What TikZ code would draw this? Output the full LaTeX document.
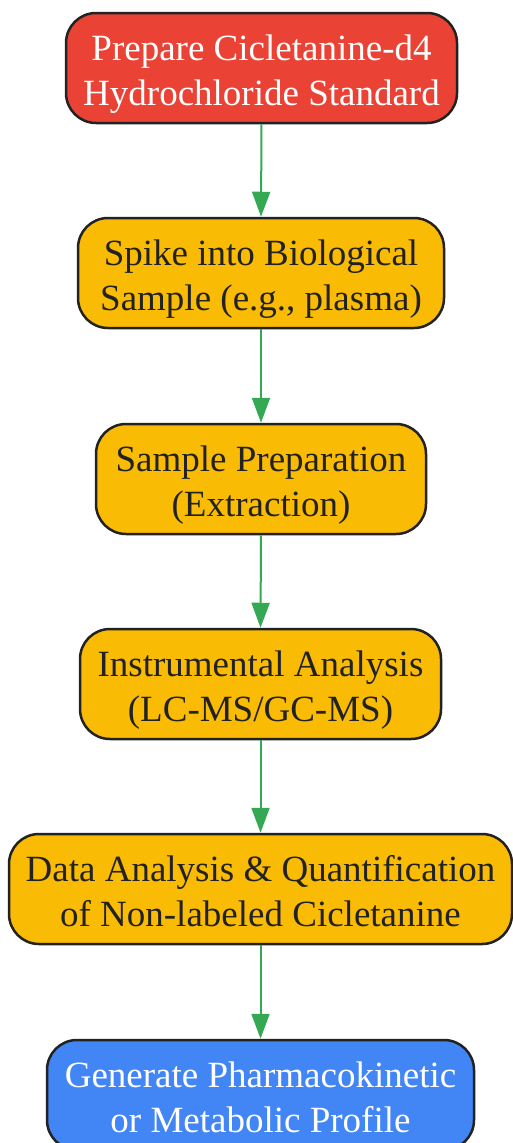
\documentclass[tikz,border=0pt]{standalone}
\usepackage{fontspec}
\setmainfont{Liberation Serif}
\usetikzlibrary{arrows.meta}
\definecolor{cred}{HTML}{EA4335}
\definecolor{cyel}{HTML}{FABB05}
\definecolor{cblue}{HTML}{4285F4}
\definecolor{cgreen}{HTML}{34A853}
\definecolor{cborder}{HTML}{222222}
\newcommand{\topstrut}{\rule{0pt}{39pt}}
\newcommand{\botstrut}{\rule[-10pt]{0pt}{10pt}}
\tikzset{
  box/.style={draw=cborder, line width=2.5pt, rounded corners=30pt, minimum height=110pt,
    align=center, inner sep=0pt, font=\fontsize{37}{45}\selectfont},
  redbox/.style={box, fill=cred, text=white},
  yelbox/.style={box, fill=cyel, text=cborder},
  bluebox/.style={box, fill=cblue, text=white},
  flow/.style={draw=cgreen, line width=2pt, -{Triangle[width=18pt,length=25pt]}}
}
\begin{document}
\begin{tikzpicture}[x=1pt,y=-1pt]
\useasboundingbox (0,0) rectangle (513,1143);
\node[redbox, minimum width=391pt] (n1) at (261.5,68) {\topstrut Prepare Cicletanine-d4\\Hydrochloride Standard\botstrut};
\node[yelbox, minimum width=366pt] (n2) at (261,273) {\topstrut Spike into Biological\\Sample (e.g., plasma)\botstrut};
\node[yelbox, minimum width=330pt] (n3) at (261,479) {\topstrut Sample Preparation\\(Extraction)\botstrut};
\node[yelbox, minimum width=361pt] (n4) at (260.5,684) {\topstrut Instrumental Analysis\\(LC-MS/GC-MS)\botstrut};
\node[yelbox, minimum width=503pt] (n5) at (260.5,889) {\topstrut Data Analysis \& Quantification\\of Non-labeled Cicletanine\botstrut};
\node[bluebox, minimum width=427pt] (n6) at (260.5,1095) {\topstrut Generate Pharmacokinetic\\or Metabolic Profile\botstrut};
\draw[flow] (n1.south) -- (n2.north);
\draw[flow] (n2.south) -- (n3.north);
\draw[flow] (n3.south) -- (n4.north);
\draw[flow] (n4.south) -- (n5.north);
\draw[flow] (n5.south) -- (n6.north);
\end{tikzpicture}
\end{document}
